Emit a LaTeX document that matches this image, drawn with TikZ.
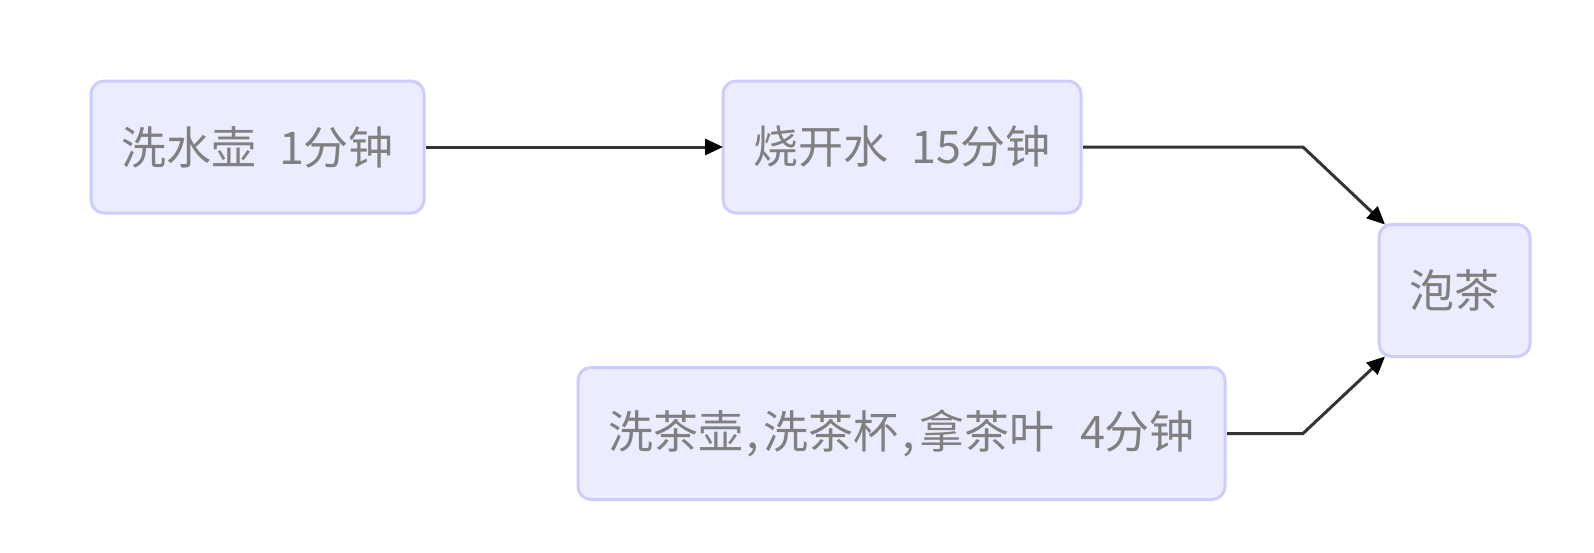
\documentclass[tikz,border=0pt]{standalone}
\usepackage{fontspec}
\setmainfont{Noto Sans CJK SC}
\usetikzlibrary{arrows.meta}
\definecolor{boxfill}{HTML}{ECECFF}
\definecolor{boxline}{HTML}{CCCCFF}
\definecolor{edgeline}{HTML}{333333}
\definecolor{labeltext}{HTML}{808080}
\newcommand{\cmz}{\hspace{4pt},\hspace{4pt}}
\tikzset{
  flowbox/.style={draw=boxline,fill=boxfill,line width=3pt,rounded corners=13pt,
    minimum height=132pt,inner sep=0pt,outer sep=0pt,text=labeltext,
    font=\fontsize{45pt}{50pt}\selectfont},
  flowedge/.style={draw=edgeline,line width=3pt,shorten <=2pt,-{Triangle[length=18pt,width=16pt,color=black]}}
}
\begin{document}
\begin{tikzpicture}[x=1pt,y=-1pt]
\useasboundingbox (0,0) rectangle (1594,552);
\node[flowbox,minimum width=333pt] (wash) at (257.5,147) {洗水壶\hspace{23pt}1分钟};
\node[flowbox,minimum width=358pt] (boil) at (902,147) {烧开水\hspace{23pt}15分钟};
\node[flowbox,minimum width=647pt] (prep) at (901.5,433.5) {洗茶壶\cmz 洗茶杯\cmz 拿茶叶\hspace{26pt}4分钟};
\node[flowbox,minimum width=151pt] (tea) at (1454.5,290.5) {泡茶};
\coordinate (bendtop) at (1303,147);
\coordinate (bendbot) at (1303,433.5);
\draw[flowedge] (wash.east) -- (boil.west);
\draw[flowedge] (boil.east) -- (bendtop) -- ([xshift=6pt]tea.north west);
\draw[flowedge] (prep.east) -- (bendbot) -- ([xshift=6pt]tea.south west);
\end{tikzpicture}
\end{document}
